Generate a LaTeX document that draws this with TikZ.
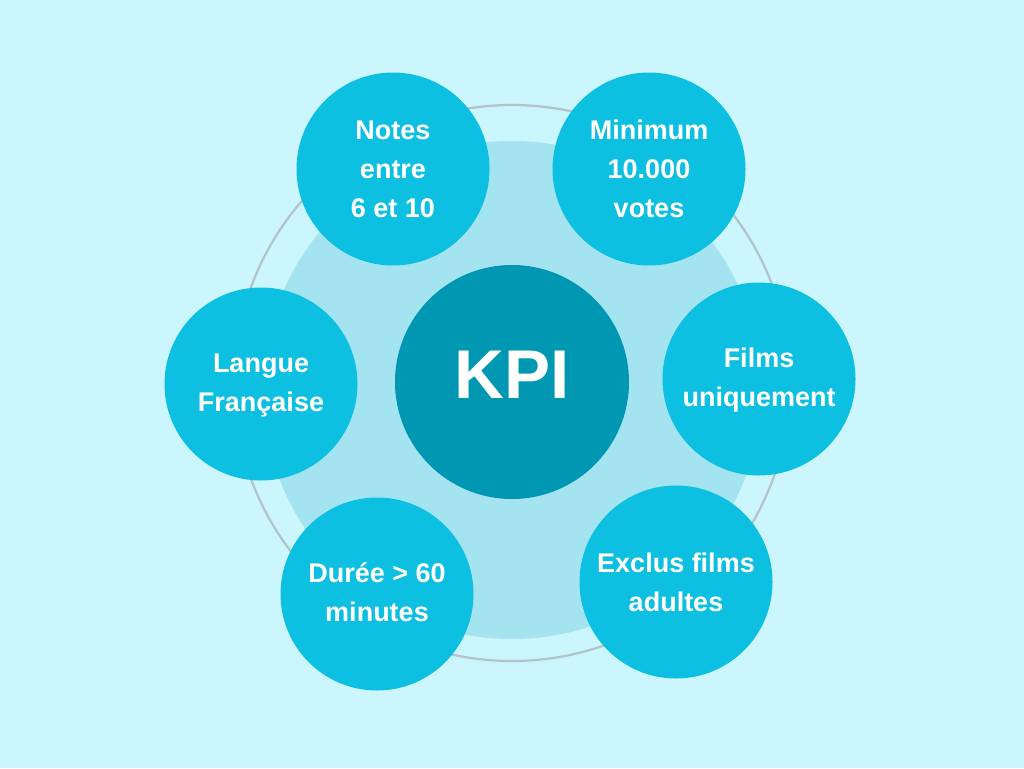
\documentclass[tikz,border=0pt]{standalone}
\usepackage{fontspec}
\setmainfont{Liberation Sans}
\definecolor{bg}{RGB}{204,246,253}
\definecolor{halo}{RGB}{164,228,241}
\definecolor{ring}{RGB}{178,196,202}
\definecolor{crit}{RGB}{13,191,224}
\definecolor{core}{RGB}{0,151,178}
\tikzset{
  every picture/.style={x=1pt, y=-1pt},
  every node/.style={text=white, font=\bfseries\fontsize{27}{39}\selectfont},
  % Kriterien rund um den Kern
  critbox/.style={circle, fill=crit, inner sep=0pt, minimum size=193pt, align=center},
  corebox/.style={circle, fill=core, inner sep=0pt, minimum size=234pt,
    font=\bfseries\fontsize{69}{80}\selectfont},
}
\begin{document}
\begin{tikzpicture}
  % Hintergrund und Seitengröße
  \fill[bg] (0,0) rectangle (1024,768);
  \useasboundingbox (0,0) rectangle (1024,768);
  % heller Hof, grauer Ring
  \fill[halo] (512,390) circle (249);
  \draw[ring, line width=2.2pt] (512,383) circle (278);
  % Kern
  \node[corebox] (kpi) at (512,382) {\raisebox{15pt}{KPI}};
  % Kriterien
  \node[critbox] (notes)  at (393,169) {Notes\\entre\\6 et 10};
  \node[critbox] (votes)  at (649,169) {Minimum\\10.000\\votes};
  \node[critbox] (langue) at (261,384) {\raisebox{-4pt}{\begin{tabular}{@{}c@{}}Langue\\Française\end{tabular}}};
  \node[critbox] (films)  at (759,379) {\raisebox{-4pt}{\begin{tabular}{@{}c@{}}Films\\uniquement\end{tabular}}};
  \node[critbox] (duree)  at (377,594)
    {\raisebox{4pt}{\begin{tabular}{@{}c@{}}Durée > 60\\minutes\end{tabular}}};
  \node[critbox] (adult)  at (676,582) {Exclus films\\adultes};
\end{tikzpicture}
\end{document}
